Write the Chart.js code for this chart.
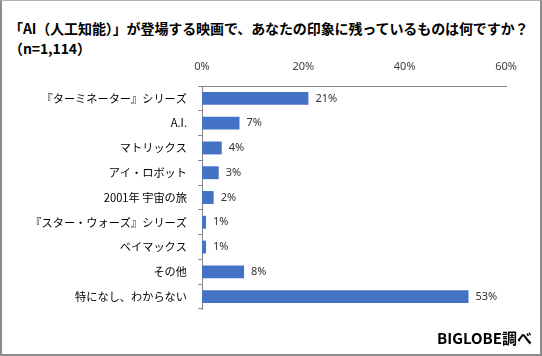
<!DOCTYPE html>
<html>
<head>
<meta charset="utf-8">
<script src="https://cdn.jsdelivr.net/npm/chart.js@4/dist/chart.umd.min.js"></script>
<style>
  html, body { margin: 0; padding: 0; background: #fff; }
  #wrap { position: relative; width: 542px; height: 356px; box-sizing: border-box; border: 2px solid #8c8c8c; border-top: 1px solid #b0b0b0; overflow: hidden; }
  #title { position: absolute; left: 7px; top: 17px; font-family: "Noto Sans CJK JP", sans-serif; font-weight: bold; font-size: 14px; line-height: 20px; color: #000; white-space: nowrap; letter-spacing: -0.1px; }
  #source { position: absolute; right: 8px; top: 327px; font-family: "Noto Sans CJK JP", sans-serif; font-weight: bold; font-size: 15px; line-height: 20px; color: #000; }
  canvas { position: absolute; left: -2px; top: -1px; }
</style>
</head>
<body>
<div id="wrap">
  <div id="title">「AI（人工知能）」が登場する映画で、あなたの印象に残っているものは何ですか？<br>（n=1,114）</div>
  <canvas id="c" width="542" height="356"></canvas>
  <div id="source">BIGLOBE調べ</div>
</div>
<script>
const categories = ['『ターミネーター』シリーズ', 'A.I.', 'マトリックス', 'アイ・ロボット', '2001年 宇宙の旅', '『スター・ウォーズ』シリーズ', 'ベイマックス', 'その他', '特になし、わからない'];
const values = [21.0, 7.4, 3.9, 3.3, 2.3, 0.8, 0.8, 8.3, 52.6];
const tickValues = [0, 20, 40, 60];

const valueLabels = {
  id: 'valueLabels',
  afterDatasetsDraw(chart) {
    const ctx = chart.ctx;
    const meta = chart.getDatasetMeta(0);
    ctx.save();
    ctx.font = '11px "Noto Sans", "DejaVu Sans", sans-serif';
    ctx.fillStyle = '#333333';
    ctx.textAlign = 'left';
    ctx.textBaseline = 'middle';
    meta.data.forEach((bar, i) => {
      ctx.fillText(Math.round(values[i]) + '%', bar.x + 7, bar.y);
    });
    ctx.restore();
  }
};

new Chart(document.getElementById('c'), {
  type: 'bar',
  data: {
    labels: categories,
    datasets: [{
      data: values,
      backgroundColor: '#4472C4',
      barPercentage: 0.52,
      categoryPercentage: 1.0
    }]
  },
  options: {
    indexAxis: 'y',
    responsive: false,
    animation: false,
    events: [],
    layout: { padding: { left: 0, right: 36, top: 0, bottom: 47 } },
    plugins: { legend: { display: false }, tooltip: { enabled: false }, title: { display: false } },
    scales: {
      x: {
        position: 'top',
        min: 0,
        max: 60,
        afterBuildTicks(scale) { scale.ticks = tickValues.map(v => ({ value: v })); },
        afterFit(scale) { scale.height = 86; },
        grid: { display: false },
        border: { display: true, color: '#868686', width: 1 },
        ticks: {
          padding: 5,
          color: '#404040',
          font: { family: '"Noto Sans", "DejaVu Sans", sans-serif', size: 11 },
          callback: v => v + '%'
        }
      },
      y: {
        afterFit(scale) { scale.width = 202; },
        grid: { offset: true, drawOnChartArea: false, drawTicks: true, tickLength: 4, color: '#868686' },
        border: { display: true, color: '#868686', width: 1 },
        ticks: {
          padding: 11,
          color: '#000',
          font: { family: '"Noto Sans CJK JP", sans-serif', size: 11.2 }
        }
      }
    }
  },
  plugins: [valueLabels]
});
</script>
</body>
</html>
